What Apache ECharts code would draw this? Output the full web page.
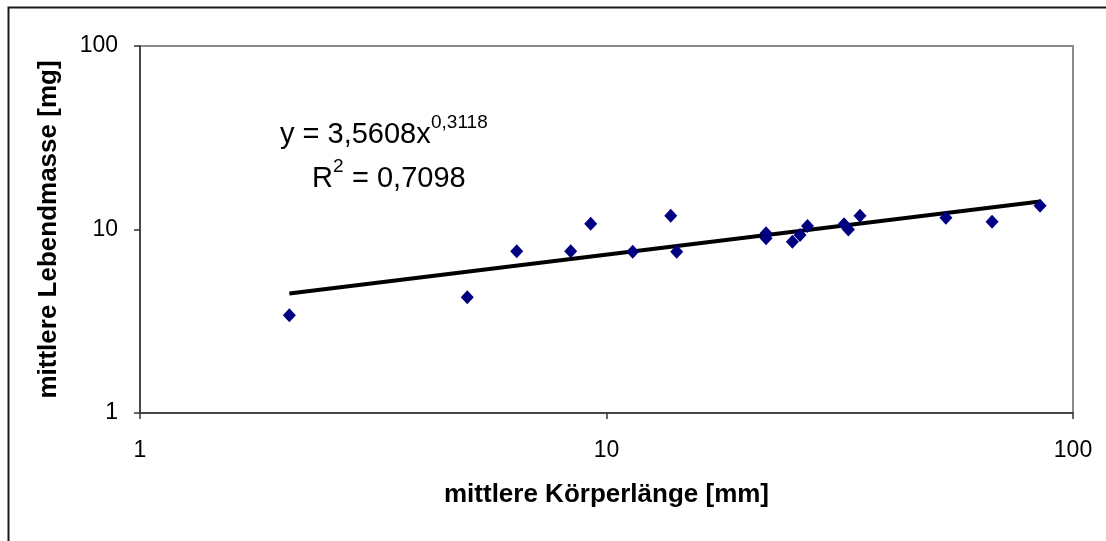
<!DOCTYPE html>
<html>
<head>
<meta charset="utf-8">
<script src="https://cdn.jsdelivr.net/npm/echarts@6/dist/echarts.min.js"></script>
<style>
  html, body { margin: 0; padding: 0; background: #fff; }
  #chart { width: 1106px; height: 541px; }
</style>
</head>
<body>
<div id="chart"></div>
<script>
// Mean body length [mm] and mean live mass [mg] per group
const koerperlaenge = [2.09, 5.03, 6.42, 8.38, 9.25, 11.38, 13.73, 14.14, 21.98, 21.98, 25.03, 25.99, 26.97, 32.3, 33.0, 34.95, 53.4, 67.06, 85.0];
const lebendmasse   = [3.41, 4.27, 7.61, 7.61, 10.76, 7.57, 11.89, 7.57, 9.53, 8.96, 8.58, 9.33, 10.45, 10.67, 10.0, 11.89, 11.6, 11.03, 13.48];

// Power trendline y = a * x^b
const trendA = 3.5608;
const trendB = 0.3118;
const bestimmtheit = '0,7098';

const axisTicks = [1, 10, 100];

const xMin = Math.min(...koerperlaenge);
const xMax = Math.max(...koerperlaenge);
const trendLine = [xMin, xMax].map(x => [x, trendA * Math.pow(x, trendB)]);

const points = koerperlaenge.map((x, i) => [x, lebendmasse[i]]);

const FONT = '"Liberation Sans", Arial, Helvetica, sans-serif';
const fmt = v => String(v).replace('.', ',');

const chart = echarts.init(document.getElementById('chart'), null, { renderer: 'canvas' });

chart.setOption({
  animation: false,
  backgroundColor: '#ffffff',
  grid: {
    left: 140, right: 33, top: 46, bottom: 128,
    show: true, borderColor: '#8a8a8a', borderWidth: 2, backgroundColor: '#ffffff'
  },
  xAxis: {
    type: 'log', logBase: 10,
    min: axisTicks[0], max: axisTicks[axisTicks.length - 1],
    name: 'mittlere Körperlänge [mm]',
    nameLocation: 'middle', nameGap: 69,
    nameTextStyle: { fontFamily: FONT, fontWeight: 'bold', fontSize: 26, color: '#000' },
    axisLine: { show: true, lineStyle: { color: '#333', width: 1.5 } },
    axisTick: { show: true, inside: false, length: 6, lineStyle: { color: '#333', width: 1.5 } },
    minorTick: { show: false },
    splitLine: { show: false },
    axisLabel: { fontFamily: FONT, fontSize: 23, color: '#000', margin: 26, formatter: v => fmt(v) }
  },
  yAxis: {
    type: 'log', logBase: 10,
    min: axisTicks[0], max: axisTicks[axisTicks.length - 1],
    name: 'mittlere Lebendmasse [mg]',
    nameLocation: 'middle', nameGap: 78, nameRotate: 90,
    nameTextStyle: { fontFamily: FONT, fontWeight: 'bold', fontSize: 26, color: '#000' },
    axisLine: { show: true, lineStyle: { color: '#333', width: 1.5 } },
    axisTick: { show: true, inside: false, length: 6, lineStyle: { color: '#333', width: 1.5 } },
    splitLine: { show: false },
    axisLabel: { fontFamily: FONT, fontSize: 23, color: '#000', margin: 22, formatter: v => fmt(v) }
  },
  series: [
    {
      name: 'Trend',
      type: 'line',
      data: trendLine,
      showSymbol: false,
      symbol: 'none',
      lineStyle: { color: '#000', width: 4 },
      z: 3
    },
    {
      name: 'Messwerte',
      type: 'scatter',
      data: points,
      symbol: 'diamond',
      symbolSize: [13, 14],
      itemStyle: { color: '#000080', opacity: 1 },
      z: 4
    }
  ],
  graphic: [
    {
      type: 'rect', left: 6, top: 5, z: 100, silent: true,
      shape: { width: 1110, height: 545 },
      style: { fill: 'none', stroke: '#1a1a1a', lineWidth: 2 }
    },
    {
      type: 'text', x: 280, y: 135, z: 100,
      style: { text: 'y = ' + fmt(trendA) + 'x', font: '29px ' + FONT, fill: '#000', verticalAlign: 'middle', align: 'left' }
    },
    {
      type: 'text', x: 431, y: 123, z: 100,
      style: { text: fmt(trendB), font: '19px ' + FONT, fill: '#000', verticalAlign: 'middle', align: 'left' }
    },
    {
      type: 'text', x: 312, y: 179, z: 100,
      style: { text: 'R', font: '29px ' + FONT, fill: '#000', verticalAlign: 'middle', align: 'left' }
    },
    {
      type: 'text', x: 333, y: 167, z: 100,
      style: { text: '2', font: '19px ' + FONT, fill: '#000', verticalAlign: 'middle', align: 'left' }
    },
    {
      type: 'text', x: 352, y: 179, z: 100,
      style: { text: '= ' + bestimmtheit, font: '29px ' + FONT, fill: '#000', verticalAlign: 'middle', align: 'left' }
    }
  ]
});
</script>
</body>
</html>
